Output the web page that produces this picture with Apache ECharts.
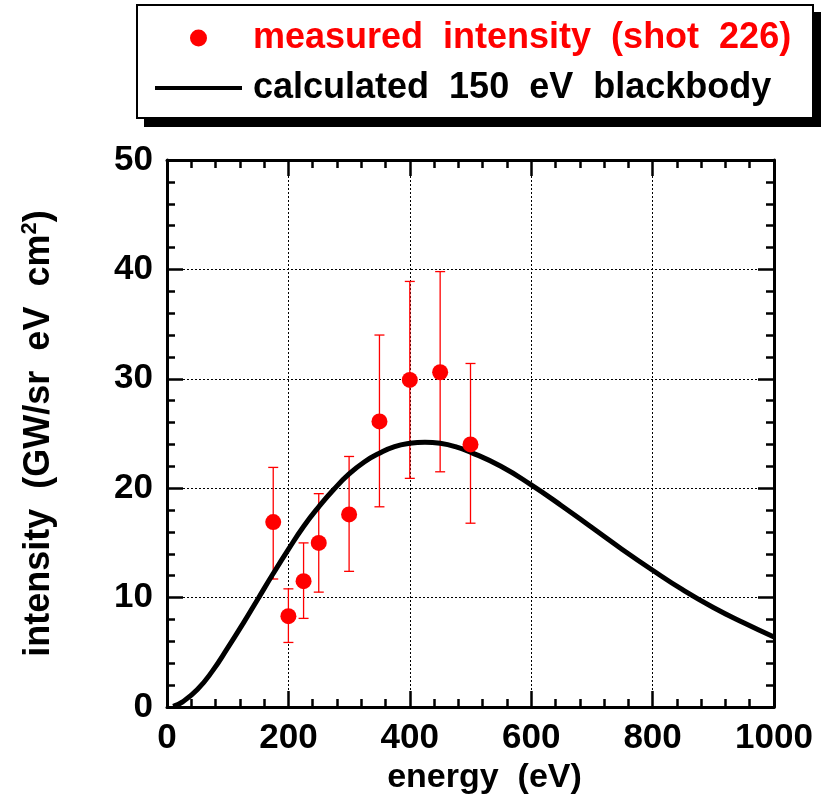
<!DOCTYPE html>
<html>
<head>
<meta charset="utf-8">
<script src="https://cdn.jsdelivr.net/npm/echarts@6/dist/echarts.min.js"></script>
<style>
    html, body { margin: 0; padding: 0; background: #fff; }
    #main { width: 822px; height: 804px; }
</style>
</head>
<body>
<div id="main"></div>
<script>
    // measured points (shot 226)
    var energy = [175, 200, 225, 250, 300, 350, 400, 450, 500];
    var measured = [16.9, 8.3, 11.5, 15.0, 17.6, 26.1, 29.9, 30.6, 24.0];
    var errLow = [11.7, 5.9, 8.1, 10.5, 12.4, 18.3, 20.9, 21.5, 16.8];
    var errHigh = [21.9, 10.8, 15.0, 19.5, 22.9, 34.0, 38.9, 39.8, 31.4];

    // blackbody curve
    var curveE = [10, 25, 50, 75, 100, 125, 150, 175, 200, 225, 250, 275, 300, 325, 350, 375, 400, 425, 450, 475, 500, 550, 600, 650, 700, 750, 800, 850, 900, 950, 1000];
    var curveI = [0.05, 0.45, 1.6, 3.3, 5.4, 7.6, 9.9, 12.2, 14.4, 16.5, 18.3, 19.9, 21.3, 22.4, 23.2, 23.8, 24.1, 24.2, 24.1, 23.8, 23.3, 22.0, 20.3, 18.4, 16.4, 14.4, 12.5, 10.7, 9.1, 7.7, 6.4];

    var nameMeas = 'measured  intensity  (shot  226)';
    var nameCalc = 'calculated  150  eV  blackbody';

    var font = 'Liberation Sans';
    var chart = echarts.init(document.getElementById('main'));

    var ptData = [], barData = [], curveData = [];
    for (var i = 0; i < energy.length; i++) {
        ptData.push([energy[i], measured[i]]);
        barData.push([energy[i], errLow[i], errHigh[i]]);
    };
    for (var i = 0; i < curveE.length; i++) {
        curveData.push([curveE[i], curveI[i]]);
    };

    // error bar: vertical line with two caps
    function renderErr(params, api) {
        var x = api.value(0);
        var lo = api.coord([x, api.value(1)]);
        var hi = api.coord([x, api.value(2)]);
        var cap = 5;
        var st = { stroke: '#ff0000', lineWidth: 1.3 };
        return {
            type: 'group',
            children: [
                { type: 'line', shape: { x1: lo[0], y1: lo[1], x2: hi[0], y2: hi[1] }, style: st },
                { type: 'line', shape: { x1: lo[0] - cap, y1: lo[1], x2: lo[0] + cap, y2: lo[1] }, style: st },
                { type: 'line', shape: { x1: hi[0] - cap, y1: hi[1], x2: hi[0] + cap, y2: hi[1] }, style: st }
            ]
        };
    };

    var tickLabel = {
        color: '#000', fontFamily: font, fontWeight: 'bold', fontSize: 35,
        formatter: function (v) { return String(v); }
    };
    var axisBase = {
        type: 'value',
        axisLine: { show: true, onZero: false, lineStyle: { color: '#000', width: 3 } },
        axisTick: { show: true, inside: true, length: 16, lineStyle: { color: '#000', width: 2.5 } },
        minorTick: { show: true, splitNumber: 5, length: 8, lineStyle: { color: '#000', width: 2.5 } }
    };

    var option = {
        animation: false,
        backgroundColor: '#fff',
        grid: { left: 167, right: 48, top: 160, bottom: 97 },
        // legend frame with solid drop shadow
        graphic: [
            { type: 'rect', z: 0, shape: { x: 144, y: 12, width: 677, height: 115 }, style: { fill: '#000' } },
            { type: 'rect', z: 1, shape: { x: 137, y: 5, width: 676, height: 113 }, style: { fill: '#fff', stroke: '#000', lineWidth: 2 } }
        ],
        legend: {
            orient: 'vertical',
            left: 137,
            top: 5,
            z: 10,
            padding: [15, 10, 10, 18],
            itemGap: 14,
            itemWidth: 87,
            itemHeight: 17,
            textStyle: { fontFamily: font, fontWeight: 'bold', fontSize: 36, padding: [0, 0, 0, 6] },
            data: [
                { name: nameMeas, icon: 'circle', textStyle: { color: '#ff0000' } },
                { name: nameCalc, icon: 'path://M0,0L87,0L87,4L0,4Z', textStyle: { color: '#000' } }
            ]
        },
        xAxis: [
            Object.assign({}, axisBase, {
                min: 0, max: 1000, interval: 200,
                name: 'energy  (eV)',
                nameLocation: 'middle',
                nameGap: 53,
                nameTextStyle: { color: '#000', fontFamily: font, fontWeight: 'bold', fontSize: 34, padding: [0, 0, 0, 28] },
                axisLabel: Object.assign({ margin: 14 }, tickLabel),
                splitLine: { show: true, lineStyle: { color: '#000', width: 1, type: [2, 2] } }
            }),
            Object.assign({}, axisBase, {
                min: 0, max: 1000, interval: 200, position: 'top',
                axisLabel: { show: false }, splitLine: { show: false }
            })
        ],
        yAxis: [
            Object.assign({}, axisBase, {
                min: 0, max: 50, interval: 10,
                name: '{a|intensity  (GW/sr  eV  cm}{s|2}{a|)}',
                nameLocation: 'middle',
                nameGap: 108,
                nameTextStyle: {
                    rich: {
                        a: { color: '#000', fontFamily: font, fontWeight: 'bold', fontSize: 36 },
                        s: { color: '#000', fontFamily: font, fontWeight: 'bold', fontSize: 22, verticalAlign: 'top', padding: [0, 0, 18, 0] }
                    }
                },
                axisLabel: Object.assign({ margin: 14 }, tickLabel),
                splitLine: { show: true, lineStyle: { color: '#000', width: 1, type: [2, 2] } }
            }),
            Object.assign({}, axisBase, {
                min: 0, max: 50, interval: 10, position: 'right',
                axisLabel: { show: false }, splitLine: { show: false }
            })
        ],
        series: [
            {
                type: 'custom',
                name: 'err',
                renderItem: renderErr,
                data: barData,
                z: 3,
                silent: true
            },
            {
                type: 'line',
                name: nameCalc,
                data: curveData,
                smooth: true,
                symbol: 'none',
                lineStyle: { color: '#000', width: 5 },
                itemStyle: { color: '#000' },
                z: 4
            },
            {
                type: 'scatter',
                name: nameMeas,
                data: ptData,
                symbol: 'circle',
                symbolSize: 16,
                itemStyle: { color: '#ff0000', opacity: 1 },
                z: 5
            }
        ]
    };
    chart.setOption(option);
</script>
</body>
</html>
